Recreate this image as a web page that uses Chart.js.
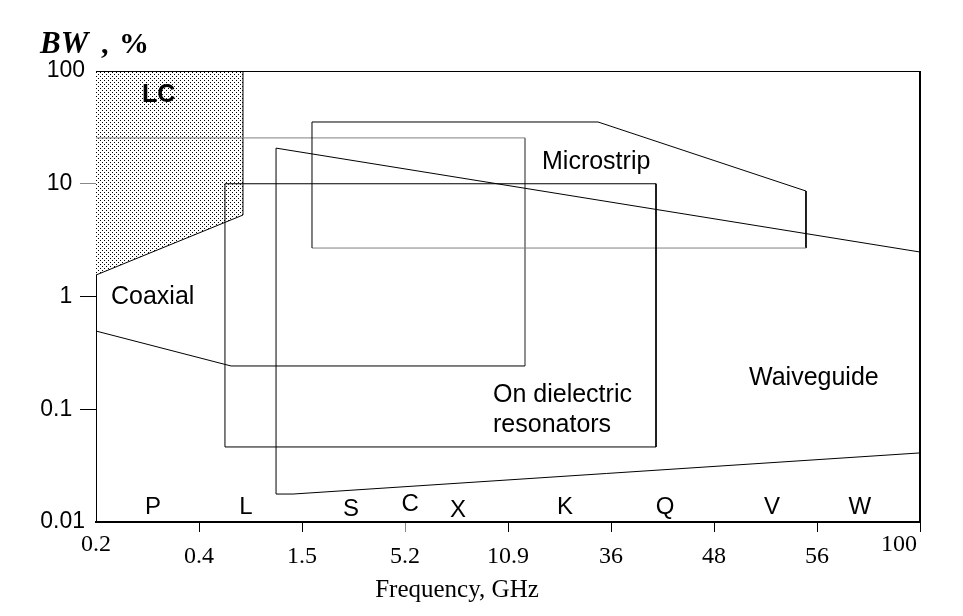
<!DOCTYPE html>
<html>
<head>
<meta charset="utf-8">
<title>BW vs frequency</title>
<script src="https://cdn.jsdelivr.net/npm/chart.js@4.4.1/dist/chart.umd.min.js"></script>
<style>
  html, body { margin: 0; padding: 0; background: #fff; }
  canvas { display: block; }
</style>
</head>
<body>
<canvas id="chart" width="963" height="616"></canvas>
<script>
// Frequency axis is not a real scale: the labels sit at equal steps
const freqTicks = ["0.2", "0.4", "1.5", "5.2", "10.9", "36", "48", "56", "100"]
const bwTicks = [0.01, 0.1, 1, 10, 100]
const bwTickLabels = ["0.01", "0.1  ", "1  ", "10  ", "100"]

// Band letters along the bottom: [position on frequency steps, BW]
const bands = ["P", "L", "S", "C", "X", "K", "Q", "V", "W"]
const bandPos = [0.553, 1.456, 2.476, 3.049, 3.515, 4.553, 5.524, 6.563, 7.417]
const bandBw = [0.0136, 0.0136, 0.013, 0.0142, 0.0127, 0.0136, 0.0136, 0.0136, 0.0136]

// Region outlines, [frequency step, BW %]
const lcEdge = [[0, 1.55], [1.427, 5.28], [1.427, 100]]
const coaxial = [[0, 25.5], [4.165, 25.5], [4.165, 0.242], [1.311, 0.242], [0, 0.494]]
const microstrip = [[2.097, 35.3], [4.874, 35.3], [6.893, 8.62], [6.893, 2.69], [2.097, 2.69], [2.097, 35.3]]
const dielectric = [[1.252, 10], [5.437, 10], [5.437, 0.0463], [1.252, 0.0463], [1.252, 10]]
const waveguide = [[1.748, 20.7], [8, 2.48], [8, 0.041], [1.913, 0.0177], [1.748, 0.0177], [1.748, 20.7]]

const SANS = "'Liberation Sans', Arial, sans-serif"
const SERIF = "'Liberation Serif', 'Times New Roman', serif"

const toPoints = (arr) => arr.map(([x, y]) => ({ x, y }))

// dotted fill for the LC area
function makeStipple() {
  const c = document.createElement("canvas")
  c.width = 4
  c.height = 4
  const g = c.getContext("2d")
  g.fillStyle = "#fff"
  g.fillRect(0, 0, 4, 4)
  g.fillStyle = "#000"
  g.fillRect(0, 0, 1, 1)
  g.fillRect(2, 2, 1, 1)
  return g.createPattern(c, "repeat")
}

const outline = (data, greySegments = []) => ({
  data: toPoints(data),
  showLine: true,
  borderColor: "#000",
  borderWidth: 1,
  pointRadius: 0,
  fill: false,
  tension: 0,
  segment: {
    borderColor: (ctx) => (greySegments.includes(ctx.p0DataIndex) ? "#808080" : "#000"),
  },
})

// frame on top/right, title, band letters and region names
const decorations = {
  id: "decorations",
  afterDraw(chart) {
    const { ctx, chartArea: a, scales } = chart
    ctx.save()
    ctx.strokeStyle = "#000"
    ctx.lineWidth = 1
    ctx.beginPath()
    ctx.moveTo(a.left, a.top + 0.5)
    ctx.lineTo(a.right, a.top + 0.5)
    ctx.stroke()
    ctx.lineWidth = 2
    ctx.beginPath()
    ctx.moveTo(a.right, a.top)
    ctx.lineTo(a.right, a.bottom)
    ctx.stroke()

    ctx.fillStyle = "#000"
    ctx.textBaseline = "middle"
    ctx.textAlign = "center"
    ctx.font = "24px " + SANS
    bands.forEach((b, i) => {
      ctx.fillText(b, scales.x.getPixelForValue(bandPos[i]), scales.y.getPixelForValue(bandBw[i]))
    })

    ctx.textAlign = "left"
    ctx.font = "bold 25px " + SANS
    ctx.fillText("LC", 142, 95)
    ctx.font = "25px " + SANS
    ctx.fillText("Coaxial", 111, 297)
    ctx.fillText("Microstrip", 542, 162)
    ctx.fillText("On dielectric", 493, 395)
    ctx.fillText("resonators", 493, 425)
    ctx.fillText("Waiveguide", 749, 378)

    // axis titles
    ctx.textBaseline = "alphabetic"
    ctx.font = "italic bold 31px " + SERIF
    ctx.fillText("BW", 40, 53)
    ctx.font = "bold 30px " + SERIF
    ctx.fillText(",", 101, 53)
    ctx.fillText("%", 119, 53)

    ctx.textAlign = "center"
    ctx.textBaseline = "middle"
    ctx.font = "25px " + SERIF
    ctx.fillText("Frequency, GHz", 457, 590)
    ctx.restore()
  },
}

new Chart(document.getElementById("chart"), {
  type: "scatter",
  data: {
    datasets: [
      outline(waveguide),
      outline(dielectric),
      outline(microstrip, [3]),
      outline(coaxial, [0, 1]),
      {
        ...outline(lcEdge),
        fill: "end",
        backgroundColor: makeStipple(),
      },
    ],
  },
  options: {
    responsive: false,
    devicePixelRatio: 1,
    animation: false,
    layout: { padding: { top: 71, right: 43, bottom: 0, left: 0 } },
    plugins: {
      legend: { display: false },
      tooltip: { enabled: false },
    },
    scales: {
      x: {
        type: "linear",
        min: 0,
        max: freqTicks.length - 1,
        afterBuildTicks: (scale) => {
          scale.ticks = freqTicks.map((_, i) => ({ value: i }))
        },
        afterFit: (scale) => {
          scale.height = 94
          // labels may hang past the plot edges, keep the plot box fixed
          scale.paddingLeft = 0
          scale.paddingRight = 0
        },
        ticks: {
          autoSkip: false,
          maxRotation: 0,
          padding: 7,
          color: "#000",
          font: { family: SERIF, size: 24, lineHeight: 12 / 24 },
          callback: (value) => {
            const i = Math.round(value)
            const label = freqTicks[i]
            if (i === 0) return label
            if (i === freqTicks.length - 1) return label + "       "
            return ["", label]
          },
        },
        grid: {
          drawOnChartArea: false,
          drawTicks: true,
          tickLength: 10,
          lineWidth: 1,
          color: (ctx) => {
            if (ctx.index === 0) return "rgba(0,0,0,0)"
            return ctx.index === 3 ? "#888" : "#000"
          },
        },
        border: { display: true, color: "#000", width: 2 },
      },
      y: {
        type: "logarithmic",
        min: 0.01,
        max: 100,
        afterBuildTicks: (scale) => {
          scale.ticks = bwTicks.map((v) => ({ value: v }))
        },
        afterFit: (scale) => {
          scale.width = 96
        },
        ticks: {
          padding: -5,
          color: "#000",
          font: { family: SANS, size: 23 },
          callback: (value, index) => bwTickLabels[index],
        },
        grid: {
          drawOnChartArea: false,
          drawTicks: true,
          tickLength: 16,
          lineWidth: 1,
          color: (ctx) => {
            const v = ctx.tick ? ctx.tick.value : null
            if (v === 100 || v === 0.01) return "rgba(0,0,0,0)"
            return v === 10 ? "#888" : "#000"
          },
        },
        border: { display: true, color: "#000", width: 1 },
      },
    },
  },
  plugins: [decorations],
})
</script>
</body>
</html>
